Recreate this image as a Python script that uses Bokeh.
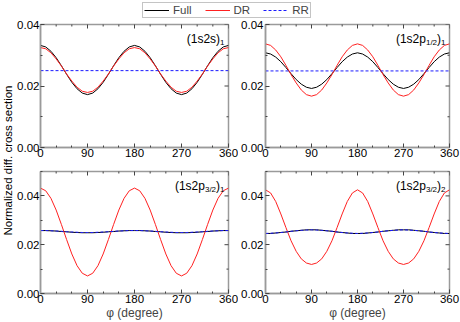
import math
from bokeh.plotting import figure
from bokeh.layouts import row, column
from bokeh.models import (Range1d, FixedTicker, Label, Legend, LegendItem,
                          NumeralTickFormatter)
from bokeh.embed import file_html
from bokeh.resources import INLINE

# ---------------- data ----------------
phi = [0, 10, 20, 30, 40, 50, 60, 70, 80, 90, 100, 110, 120, 130, 140, 150, 160, 170, 180,
       190, 200, 210, 220, 230, 240, 250, 260, 270, 280, 290, 300, 310, 320, 330, 340, 350, 360]
rr_phi = [0, 360]

tl_full = [0.0332,0.0327,0.0313,0.0292,0.0266,0.0238,0.0212,0.0191,0.0177,0.0172,
           0.0177,0.0191,0.0212,0.0238,0.0266,0.0292,0.0313,0.0327,0.0332,
           0.0327,0.0313,0.0292,0.0266,0.0238,0.0212,0.0191,0.0177,0.0172,
           0.0177,0.0191,0.0212,0.0238,0.0266,0.0292,0.0313,0.0327,0.0332]
tl_dr = [0.0325,0.0321,0.0308,0.0288,0.0265,0.0239,0.0216,0.0196,0.0183,0.0179,
         0.0183,0.0196,0.0216,0.0239,0.0265,0.0288,0.0308,0.0321,0.0325,
         0.0321,0.0308,0.0288,0.0265,0.0239,0.0216,0.0196,0.0183,0.0179,
         0.0183,0.0196,0.0216,0.0239,0.0265,0.0288,0.0308,0.0321,0.0325]
tl_rr = [0.0250, 0.0250]

tr_full = [0.0308,0.0304,0.0294,0.0279,0.0260,0.0240,0.0221,0.0206,0.0196,0.0192,
           0.0196,0.0206,0.0221,0.0240,0.0260,0.0279,0.0294,0.0304,0.0308,
           0.0304,0.0294,0.0279,0.0260,0.0240,0.0221,0.0206,0.0196,0.0192,
           0.0196,0.0206,0.0221,0.0240,0.0260,0.0279,0.0294,0.0304,0.0308]
tr_dr = [0.0337,0.0332,0.0317,0.0295,0.0267,0.0237,0.0210,0.0187,0.0172,0.0167,
         0.0172,0.0187,0.0210,0.0237,0.0267,0.0295,0.0317,0.0332,0.0337,
         0.0332,0.0317,0.0295,0.0267,0.0237,0.0210,0.0187,0.0172,0.0167,
         0.0172,0.0187,0.0210,0.0237,0.0267,0.0295,0.0317,0.0332,0.0337]
tr_rr = [0.0249, 0.0249]

bl_full = [0.0258,0.0258,0.0257,0.0256,0.0254,0.0253,0.0251,0.0250,0.0249,0.0249,
           0.0249,0.0250,0.0251,0.0253,0.0254,0.0256,0.0257,0.0258,0.0258,
           0.0258,0.0257,0.0256,0.0254,0.0253,0.0251,0.0250,0.0249,0.0249,
           0.0249,0.0250,0.0251,0.0253,0.0254,0.0256,0.0257,0.0258,0.0258]
bl_dr = [0.0432,0.0421,0.0390,0.0342,0.0283,0.0221,0.0162,0.0114,0.0083,0.0072,
         0.0083,0.0114,0.0162,0.0221,0.0283,0.0342,0.0390,0.0421,0.0432,
         0.0421,0.0390,0.0342,0.0283,0.0221,0.0162,0.0114,0.0083,0.0072,
         0.0083,0.0114,0.0162,0.0221,0.0283,0.0342,0.0390,0.0421,0.0432]
bl_rr = [0.0258,0.0258,0.0257,0.0256,0.0255,0.0253,0.0252,0.0251,0.0250,0.0250,
         0.0250,0.0251,0.0252,0.0253,0.0255,0.0256,0.0257,0.0258,0.0258,
         0.0258,0.0257,0.0256,0.0255,0.0253,0.0252,0.0251,0.0250,0.0250,
         0.0250,0.0251,0.0252,0.0253,0.0255,0.0256,0.0257,0.0258,0.0258]

br_full = [0.0246,0.0246,0.0248,0.0250,0.0252,0.0255,0.0257,0.0259,0.0261,0.0261,
           0.0261,0.0259,0.0257,0.0255,0.0252,0.0250,0.0248,0.0246,0.0246,
           0.0246,0.0248,0.0250,0.0252,0.0255,0.0257,0.0259,0.0261,0.0261,
           0.0261,0.0259,0.0257,0.0255,0.0252,0.0250,0.0248,0.0246,0.0246]
br_dr = [0.0425,0.0412,0.0377,0.0326,0.0270,0.0216,0.0173,0.0142,0.0125,0.0119,
         0.0125,0.0142,0.0173,0.0216,0.0270,0.0326,0.0377,0.0412,0.0425,
         0.0412,0.0377,0.0326,0.0270,0.0216,0.0173,0.0142,0.0125,0.0119,
         0.0125,0.0142,0.0173,0.0216,0.0270,0.0326,0.0377,0.0412,0.0425]
br_rr = [0.0246,0.0247,0.0248,0.0250,0.0252,0.0255,0.0257,0.0259,0.0260,0.0261,
         0.0260,0.0259,0.0257,0.0255,0.0252,0.0250,0.0248,0.0247,0.0246,
         0.0247,0.0248,0.0250,0.0252,0.0255,0.0257,0.0259,0.0260,0.0261,
         0.0260,0.0259,0.0257,0.0255,0.0252,0.0250,0.0248,0.0247,0.0246]

x_ticks = [0, 90, 180, 270, 360]
x_minor = [30, 60, 120, 150, 210, 240, 300, 330]
y_ticks = [0.0, 0.02, 0.04]
y_minor = [0.01, 0.03, 0.05]

series_names = ["Full", "DR", "RR"]
panel_labels = [
    [("(1s2s)", False), ("1", True)],
    [("(1s2p", False), ("1/2", True), (")", False), ("1", True)],
    [("(1s2p", False), ("3/2", True), (")", False), ("1", True)],
    [("(1s2p", False), ("3/2", True), (")", False), ("2", True)],
]

# ---------------- style ----------------
FONT = "Liberation Sans"
C_FULL, C_DR, C_RR = "black", "#ff2020", "#1a1aff"
FRAME = "#9a9a9a"
TICKC = "#444444"
TICK_FS = "11.5px"
MAIN_FS, SUB_FS = 12, 8
ADV = {"(": 0.333, ")": 0.333, "1": 0.556, "2": 0.556, "3": 0.556, "s": 0.5, "p": 0.556, "/": 0.278}


def style_axis(ax, ticks, minor):
    ax.ticker = FixedTicker(ticks=ticks, minor_ticks=minor)
    ax.axis_line_color = FRAME
    ax.axis_line_width = 1.5
    ax.major_tick_in = 4
    ax.major_tick_out = 0
    ax.minor_tick_in = 2
    ax.minor_tick_out = 0
    ax.major_tick_line_color = TICKC
    ax.minor_tick_line_color = TICKC
    ax.major_label_text_font = FONT
    ax.major_label_text_font_size = TICK_FS
    ax.major_label_text_color = "black"


def make_panel(full, dr, rr_x, rr, ymax, labels, top_row, left_col):
    if left_col:
        w, bl, br = 224, 22, 10
    else:
        w, bl, br = 222, 24, 11
    if top_row:
        h, bt, bb = 147, 6, 18
    else:
        h, bt, bb = 157, 6, 29
    p = figure(width=w, height=h, output_backend="svg", toolbar_location=None,
               x_range=Range1d(0, 360), y_range=Range1d(0, ymax),
               min_border_left=bl, min_border_right=br,
               min_border_top=bt, min_border_bottom=bb)
    p.grid.visible = False
    p.outline_line_color = FRAME
    p.outline_line_width = 1.5
    p.background_fill_color = "white"
    p.border_fill_color = "white"
    style_axis(p.xaxis[0], x_ticks, x_minor)
    style_axis(p.yaxis[0], y_ticks, y_minor)
    p.yaxis[0].formatter = NumeralTickFormatter(format="0.00")
    p.xaxis[0].major_label_standoff = 1
    p.yaxis[0].major_label_standoff = 1 if left_col else 2
    if not top_row:
        p.xaxis[0].axis_label = "\u03c6 (degree)"
        p.xaxis[0].axis_label_text_font = FONT
        p.xaxis[0].axis_label_text_font_size = "12px"
        p.xaxis[0].axis_label_text_font_style = "normal"
        p.xaxis[0].axis_label_standoff = 0

    # mirrored inward ticks on the top and right edges (half of each dash is clipped by the frame)
    p.scatter(x_ticks, [ymax] * len(x_ticks), marker="dash", angle=math.pi / 2,
              size=8, line_color=TICKC, line_width=1)
    p.scatter(x_minor, [ymax] * len(x_minor), marker="dash", angle=math.pi / 2,
              size=4, line_color=TICKC, line_width=1)
    p.scatter([360] * len(y_ticks), y_ticks, marker="dash", size=8,
              line_color=TICKC, line_width=1)
    p.scatter([360] * len(y_minor), y_minor, marker="dash", size=4,
              line_color=TICKC, line_width=1)

    p.line(phi, full, line_color=C_FULL, line_width=1)
    p.line(phi, dr, line_color=C_DR, line_width=1)
    p.line(rr_x, rr, line_color=C_RR, line_width=1, line_dash="3 2")

    # panel label with subscripts, chained from the right edge
    x_off = -4
    for text, sub in reversed(labels):
        fs = SUB_FS if sub else MAIN_FS
        wpx = sum(ADV.get(ch, 0.55) for ch in text) * fs
        p.add_layout(Label(x=360, y=ymax, x_offset=x_off, y_offset=-17.5 if sub else -14,
                           text=text, text_align="right", text_baseline="alphabetic",
                           text_font=FONT, text_font_size=f"{fs}px", text_color="black"))
        x_off -= wpx
    return p


p_tl = make_panel(tl_full, tl_dr, rr_phi, tl_rr, 0.04, panel_labels[0], True, True)
p_tr = make_panel(tr_full, tr_dr, rr_phi, tr_rr, 0.04, panel_labels[1], True, False)
p_bl = make_panel(bl_full, bl_dr, phi, bl_rr, 0.05, panel_labels[2], False, True)
p_br = make_panel(br_full, br_dr, phi, br_rr, 0.05, panel_labels[3], False, False)

# legend strip (renderers are off-range, only their legend glyphs show)
leg = figure(width=446, height=18, output_backend="svg", toolbar_location=None,
             x_range=Range1d(1000, 1001), y_range=Range1d(0, 1), min_border=0)
leg.axis.visible = False
leg.grid.visible = False
leg.outline_line_color = None
r1 = leg.line(phi, tl_full, line_color=C_FULL, line_width=1)
r2 = leg.line(phi, tl_dr, line_color=C_DR, line_width=1)
r3 = leg.line(rr_phi, tl_rr, line_color=C_RR, line_width=1, line_dash="3 2")
legend = Legend(items=[LegendItem(label=series_names[0], renderers=[r1]),
                       LegendItem(label=series_names[1], renderers=[r2]),
                       LegendItem(label=series_names[2], renderers=[r3])],
                orientation="horizontal", location=(128, 0), padding=1, margin=0,
                spacing=13, glyph_width=25, glyph_height=10, label_height=10,
                label_width=0, label_standoff=4, label_text_font=FONT,
                label_text_font_size="11.5px", border_line_color="#8a8a8a",
                border_line_width=1, background_fill_color="white")
leg.add_layout(legend, "center")

# y title strip
yt = figure(width=14, height=322, output_backend="svg", toolbar_location=None,
            x_range=Range1d(0, 14), y_range=Range1d(0, 322), min_border=0)
yt.axis.visible = False
yt.grid.visible = False
yt.outline_line_color = None
yt.add_layout(Label(x=7, y=162, text="Normalized diff. cross section", angle=math.pi / 2,
                    text_align="center", text_baseline="middle", text_font=FONT,
                    text_font_size="11.5px", text_color="black"))

layout = row(yt, column(leg, row(p_tl, p_tr), row(p_bl, p_br)))

open("out.html", "w").write(file_html(layout, INLINE))
